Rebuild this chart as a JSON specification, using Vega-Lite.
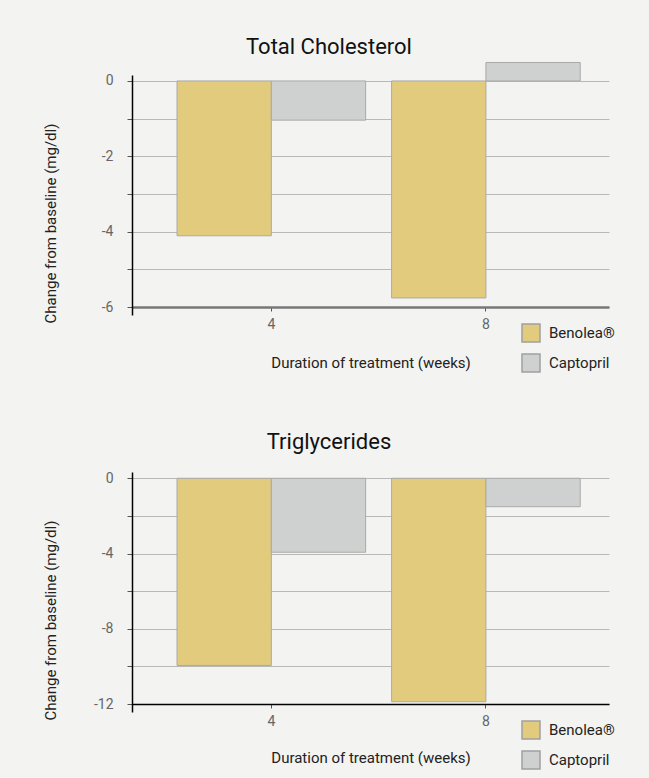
{
  "$schema": "https://vega.github.io/schema/vega-lite/v6.json",
  "background": "#f3f3f1",
  "padding": {"left": 43, "top": 35, "right": 37, "bottom": 6},
  "spacing": 56,
  "resolve": {"scale": {"color": "independent"}, "legend": {"color": "independent"}},
  "config": {
    "font": "Roboto, sans-serif",
    "view": {"stroke": null},
    "axis": {
      "labelFontSize": 14,
      "labelColor": "#666666",
      "titleFontSize": 15,
      "titleFontWeight": "normal",
      "titleColor": "#222222",
      "tickColor": "#555555",
      "gridColor": "#b8b8b8",
      "gridWidth": 1.2
    },
    "legend": {
      "labelFontSize": 15,
      "labelColor": "#222222",
      "symbolType": "square",
      "symbolSize": 324,
      "symbolStrokeWidth": 1.5,
      "symbolStrokeColor": "#a0a0a0",
      "rowPadding": 6,
      "labelOffset": 8,
      "padding": 0
    },
    "title": {
      "fontSize": 22,
      "fontWeight": "normal",
      "color": "#111111",
      "frame": "bounds",
      "anchor": "middle",
      "baseline": "alphabetic"
    }
  },
  "datasets": {
    "cholesterol": [
      {"week": "4", "drug": "Benolea®", "value": -4.11},
      {"week": "4", "drug": "Captopril", "value": -1.04},
      {"week": "8", "drug": "Benolea®", "value": -5.76},
      {"week": "8", "drug": "Captopril", "value": 0.49}
    ],
    "triglycerides": [
      {"week": "4", "drug": "Benolea®", "value": -9.95},
      {"week": "4", "drug": "Captopril", "value": -3.93},
      {"week": "8", "drug": "Benolea®", "value": -11.88},
      {"week": "8", "drug": "Captopril", "value": -1.51}
    ]
  },
  "vconcat": [
    {
      "data": {"name": "cholesterol"},
      "title": {"text": "Total Cholesterol", "offset": 3},
      "width": 477,
      "height": 240,
      "mark": {"type": "bar", "stroke": "#a9a9a9", "strokeWidth": 1},
      "encoding": {
        "x": {
          "field": "week",
          "type": "ordinal",
          "scale": {"paddingInner": 0.121, "paddingOuter": 0.172, "align": 0.61},
          "axis": {
            "title": "Duration of treatment (weeks)",
            "labelAngle": 0,
            "offset": -8,
            "domainColor": "#777777",
            "domainWidth": 2.5,
            "tickSize": 4,
            "labelPadding": 6,
            "titlePadding": 24
          }
        },
        "xOffset": {"field": "drug", "type": "nominal", "sort": ["Benolea®", "Captopril"]},
        "y": {
          "field": "value",
          "type": "quantitative",
          "scale": {"domain": [-6.2123, 0.1577], "nice": false, "zero": false},
          "axis": {
            "title": "Change from baseline (mg/dl)",
            "values": [0, -1, -2, -3, -4, -5, -6],
            "labelExpr": "datum.value % 2 === 0 ? '' + datum.value : ''",
            "domainColor": "#000000",
            "domainWidth": 1.5,
            "tickSize": 5,
            "labelPadding": 14,
            "titleX": -74,
            "titleY": 148
          }
        },
        "y2": {"datum": 0},
        "color": {
          "field": "drug",
          "type": "nominal",
          "scale": {"domain": ["Benolea®", "Captopril"], "range": ["#e3cb7e", "#cfd0d0"]},
          "legend": {"orient": "none", "legendX": 389, "legendY": 248, "title": null}
        }
      }
    },
    {
      "data": {"name": "triglycerides"},
      "title": {"text": "Triglycerides", "offset": 17},
      "width": 477,
      "height": 240,
      "mark": {"type": "bar", "stroke": "#a9a9a9", "strokeWidth": 1},
      "encoding": {
        "x": {
          "field": "week",
          "type": "ordinal",
          "scale": {"paddingInner": 0.121, "paddingOuter": 0.172, "align": 0.61},
          "axis": {
            "title": "Duration of treatment (weeks)",
            "labelAngle": 0,
            "offset": -8,
            "domainColor": "#000000",
            "domainWidth": 1.5,
            "tickSize": 4,
            "labelPadding": 6,
            "titlePadding": 22
          }
        },
        "xOffset": {"field": "drug", "type": "nominal", "sort": ["Benolea®", "Captopril"]},
        "y": {
          "field": "value",
          "type": "quantitative",
          "scale": {"domain": [-12.4253, 0.3347], "nice": false, "zero": false},
          "axis": {
            "title": "Change from baseline (mg/dl)",
            "values": [0, -2, -4, -6, -8, -10, -12],
            "labelExpr": "datum.value % 4 === 0 ? '' + datum.value : ''",
            "domainColor": "#000000",
            "domainWidth": 1.5,
            "tickSize": 5,
            "labelPadding": 14,
            "titleX": -74,
            "titleY": 148
          }
        },
        "y2": {"datum": 0},
        "color": {
          "field": "drug",
          "type": "nominal",
          "scale": {"domain": ["Benolea®", "Captopril"], "range": ["#e3cb7e", "#cfd0d0"]},
          "legend": {"orient": "none", "legendX": 389, "legendY": 248, "title": null}
        }
      }
    }
  ]
}
